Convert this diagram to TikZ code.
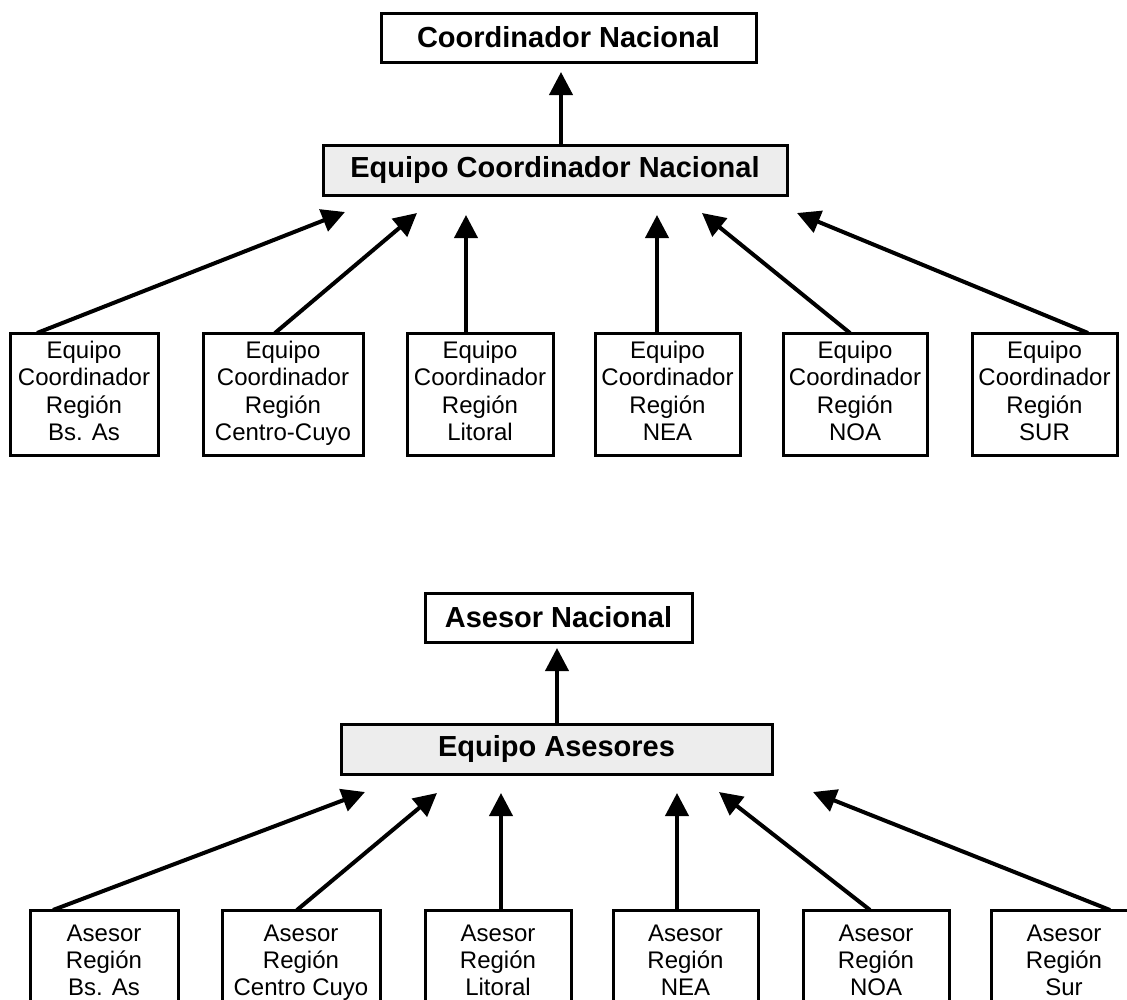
\documentclass[tikz,border=0pt]{standalone}
\usepackage{fontspec}
\setmainfont{Liberation Sans}
\usetikzlibrary{arrows.meta}
\begin{document}
\begin{tikzpicture}[x=1pt,y=-1pt,
  every node/.style={outer sep=0pt, inner sep=0pt},
  headbox/.style={draw, line width=3pt, font=\fontsize{29}{34}\selectfont\bfseries},
  teambox/.style={headbox, fill=black!7},
  regbox/.style={draw, line width=3pt, align=center, font=\fontsize{24}{27.5}\selectfont},
  advbox/.style={draw, line width=3pt, align=center, font=\fontsize{24}{27}\selectfont},
  link/.style={line width=4pt, -{Triangle[length=23pt,width=23pt]}}
]
\useasboundingbox (0,0) rectangle (1127,999);
\begin{scope}
\clip (0,0) rectangle (1127,999);

% ---------- coordination chart ----------
\node[headbox, minimum width=375pt, minimum height=49pt] (cn) at (568.5,37.5) {Coordinador Nacional};
\node[teambox, minimum width=464pt, minimum height=50pt] (ecn) at (555,170) {Equipo Coordinador Nacional};

\node[regbox, minimum width=148pt, minimum height=122pt] (r1) at (84,394)
  {\strut Equipo\\\strut Coordinador\\\strut Región\\\strut Bs. As};
\node[regbox, minimum width=160pt, minimum height=122pt] (r2) at (283,394)
  {\strut Equipo\\\strut Coordinador\\\strut Región\\\strut Centro-Cuyo};
\node[regbox, minimum width=146pt, minimum height=122pt] (r3) at (480,394)
  {\strut Equipo\\\strut Coordinador\\\strut Región\\\strut Litoral};
\node[regbox, minimum width=145pt, minimum height=122pt] (r4) at (667.5,394)
  {\strut Equipo\\\strut Coordinador\\\strut Región\\\strut NEA};
\node[regbox, minimum width=144pt, minimum height=122pt] (r5) at (855,394)
  {\strut Equipo\\\strut Coordinador\\\strut Región\\\strut NOA};
\node[regbox, minimum width=145pt, minimum height=122pt] (r6) at (1044.5,394)
  {\strut Equipo\\\strut Coordinador\\\strut Región\\\strut SUR};

\coordinate (tc) at (561,72);
\draw[link] (tc |- ecn.north) -- (tc);

\coordinate (t1) at (345,212);
\coordinate (t2) at (417,213);
\coordinate (t3) at (466,215);
\coordinate (t4) at (657,215);
\coordinate (t5) at (702,213);
\coordinate (t6) at (797,213);
\draw[link] ([xshift=27pt]r1.north west) -- (t1);
\draw[link] ([xshift=72pt]r2.north west) -- (t2);
\draw[link] (t3 |- r3.north) -- (t3);
\draw[link] (t4 |- r4.north) -- (t4);
\draw[link] ([xshift=67pt]r5.north west) -- (t5);
\draw[link] ([xshift=116pt]r6.north west) -- (t6);

% ---------- advisory chart ----------
\node[headbox, minimum width=267pt, minimum height=49pt] (an) at (558.5,617.5) {Asesor Nacional};
\node[teambox, minimum width=431pt, minimum height=50pt] (ea) at (556.5,749) {Equipo Asesores};

\node[advbox, minimum width=148pt, minimum height=107pt] (a1) at (104,963.5)
  {\strut Asesor\\\strut Región\\\strut Bs. As};
\node[advbox, minimum width=158pt, minimum height=107pt] (a2) at (301,963.5)
  {\strut Asesor\\\strut Región\\\strut Centro Cuyo};
\node[advbox, minimum width=146pt, minimum height=107pt] (a3) at (498,963.5)
  {\strut Asesor\\\strut Región\\\strut Litoral};
\node[advbox, minimum width=145pt, minimum height=107pt] (a4) at (685.5,963.5)
  {\strut Asesor\\\strut Región\\\strut NEA};
\node[advbox, minimum width=146pt, minimum height=107pt] (a5) at (876,963.5)
  {\strut Asesor\\\strut Región\\\strut NOA};
\node[advbox, minimum width=146pt, minimum height=107pt] (a6) at (1064,963.5)
  {\strut Asesor\\\strut Región\\\strut Sur};

\coordinate (ta) at (557,648);
\draw[link] (ta |- ea.north) -- (ta);

\coordinate (u1) at (365,792);
\coordinate (u2) at (437,793);
\coordinate (u3) at (501,793);
\coordinate (u4) at (677,793);
\coordinate (u5) at (719,792);
\coordinate (u6) at (813,792);
\draw[link] ([xshift=23pt]a1.north west) -- (u1);
\draw[link] ([xshift=75pt]a2.north west) -- (u2);
\draw[link] (u3 |- a3.north) -- (u3);
\draw[link] (u4 |- a4.north) -- (u4);
\draw[link] ([xshift=67pt]a5.north west) -- (u5);
\draw[link] ([xshift=119pt]a6.north west) -- (u6);
\end{scope}
\end{tikzpicture}
\end{document}
